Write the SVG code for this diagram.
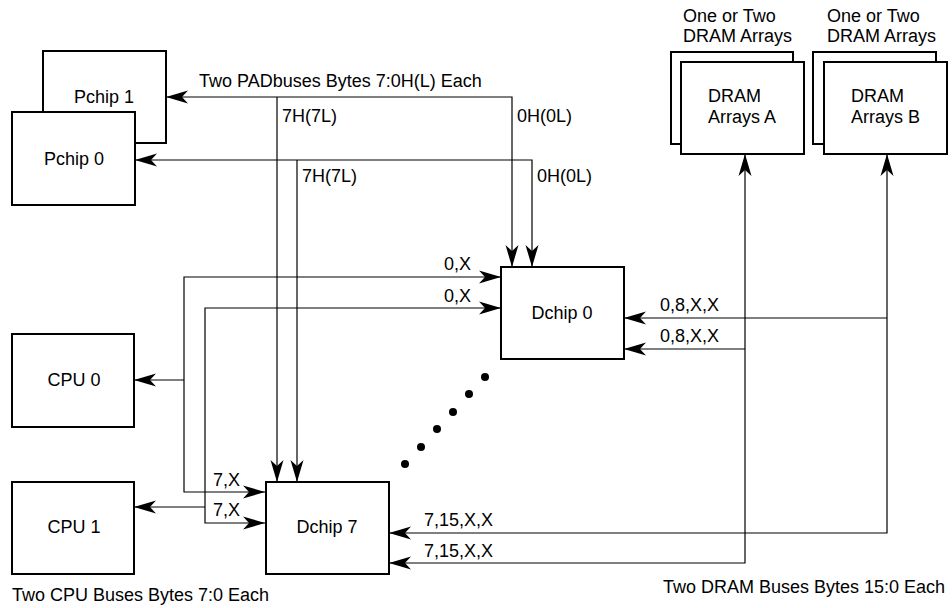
<svg xmlns="http://www.w3.org/2000/svg" width="952" height="608" viewBox="0 0 952 608">
<style>
text{font-family:"Liberation Sans",Arial,sans-serif;font-size:18px;fill:#000}
.box{fill:#fff;stroke:#000;stroke-width:2}
.c{fill:none;stroke:#000;stroke-width:1.2}
.mid{text-anchor:middle}
</style>
<defs>
<marker id="ah" markerUnits="userSpaceOnUse" markerWidth="24" markerHeight="16" viewBox="0 -8 23 16" refX="22" refY="0" orient="auto-start-reverse">
<path d="M0,-6.5 L22,0 L0,6.5 L6,0 Z" fill="#000"/>
</marker>
</defs>
<rect width="952" height="608" fill="#fff"/>
<g id="connectors">
<path class="c" d="M166,97 H512 V267" marker-start="url(#ah)" marker-end="url(#ah)"/>
<path class="c" d="M277,97 V482" marker-end="url(#ah)"/>
<path class="c" d="M135,160 H532 V267" marker-start="url(#ah)" marker-end="url(#ah)"/>
<path class="c" d="M297,160 V482" marker-end="url(#ah)"/>
<path class="c" d="M501,277 H184 V492 H265" marker-start="url(#ah)" marker-end="url(#ah)"/>
<path class="c" d="M184,380 H134" marker-end="url(#ah)"/>
<path class="c" d="M501,308 H205 V523 H265" marker-start="url(#ah)" marker-end="url(#ah)"/>
<path class="c" d="M205,507 H134" marker-end="url(#ah)"/>
<path class="c" d="M887,154 V533 H389" marker-start="url(#ah)" marker-end="url(#ah)"/>
<path class="c" d="M887,318 H624" marker-end="url(#ah)"/>
<path class="c" d="M745,154 V563 H389" marker-start="url(#ah)" marker-end="url(#ah)"/>
<path class="c" d="M745,349 H624" marker-end="url(#ah)"/>
</g>
<g id="labels">
<text x="199" y="87">Two PADbuses Bytes 7:0H(L) Each</text>
<text x="282" y="122">7H(7L)</text>
<text x="517" y="122">0H(0L)</text>
<text x="302" y="182">7H(7L)</text>
<text x="537" y="182">0H(0L)</text>
<text x="444" y="270">0,X</text>
<text x="444" y="302">0,X</text>
<text x="213" y="486">7,X</text>
<text x="213" y="516">7,X</text>
<text x="660" y="311">0,8,X,X</text>
<text x="660" y="342">0,8,X,X</text>
<text x="424" y="526">7,15,X,X</text>
<text x="424" y="557">7,15,X,X</text>
<text x="12" y="601">Two CPU Buses Bytes 7:0 Each</text>
<text x="663" y="593">Two DRAM Buses Bytes 15:0 Each</text>
<text x="683" y="22">One or Two</text>
<text x="683" y="42">DRAM Arrays</text>
<text x="827" y="22">One or Two</text>
<text x="827" y="42">DRAM Arrays</text>
</g>
<g id="pchip1">
<rect class="box" x="43" y="51" width="123" height="92"/>
<text class="mid" x="104" y="103">Pchip 1</text>
</g>
<g id="pchip0">
<rect class="box" x="12" y="112" width="123" height="93"/>
<text class="mid" x="74" y="165">Pchip 0</text>
</g>
<g id="cpu0">
<rect class="box" x="12" y="334" width="122" height="93"/>
<text class="mid" x="74" y="386">CPU 0</text>
</g>
<g id="cpu1">
<rect class="box" x="12" y="482" width="122" height="92"/>
<text class="mid" x="74" y="533">CPU 1</text>
</g>
<g id="dchip0">
<rect class="box" x="501" y="267" width="123" height="92"/>
<text class="mid" x="562" y="319">Dchip 0</text>
</g>
<g id="dchip7">
<rect class="box" x="266" y="482" width="123" height="92"/>
<text class="mid" x="327" y="533">Dchip 7</text>
</g>
<g id="dots">
<circle cx="485" cy="377" r="4"/>
<circle cx="469" cy="394" r="4"/>
<circle cx="453" cy="412" r="4"/>
<circle cx="437" cy="429" r="4"/>
<circle cx="421" cy="447" r="4"/>
<circle cx="405" cy="464" r="4"/>
</g>
<g id="dramA">
<rect class="box" x="671" y="52" width="122" height="92"/>
<rect class="box" x="681" y="62" width="123" height="92"/>
<text x="708" y="102">DRAM</text>
<text x="708" y="123">Arrays A</text>
</g>
<g id="dramB">
<rect class="box" x="813" y="52" width="123" height="92"/>
<rect class="box" x="824" y="62" width="123" height="92"/>
<text x="851" y="102">DRAM</text>
<text x="851" y="123">Arrays B</text>
</g>
</svg>
